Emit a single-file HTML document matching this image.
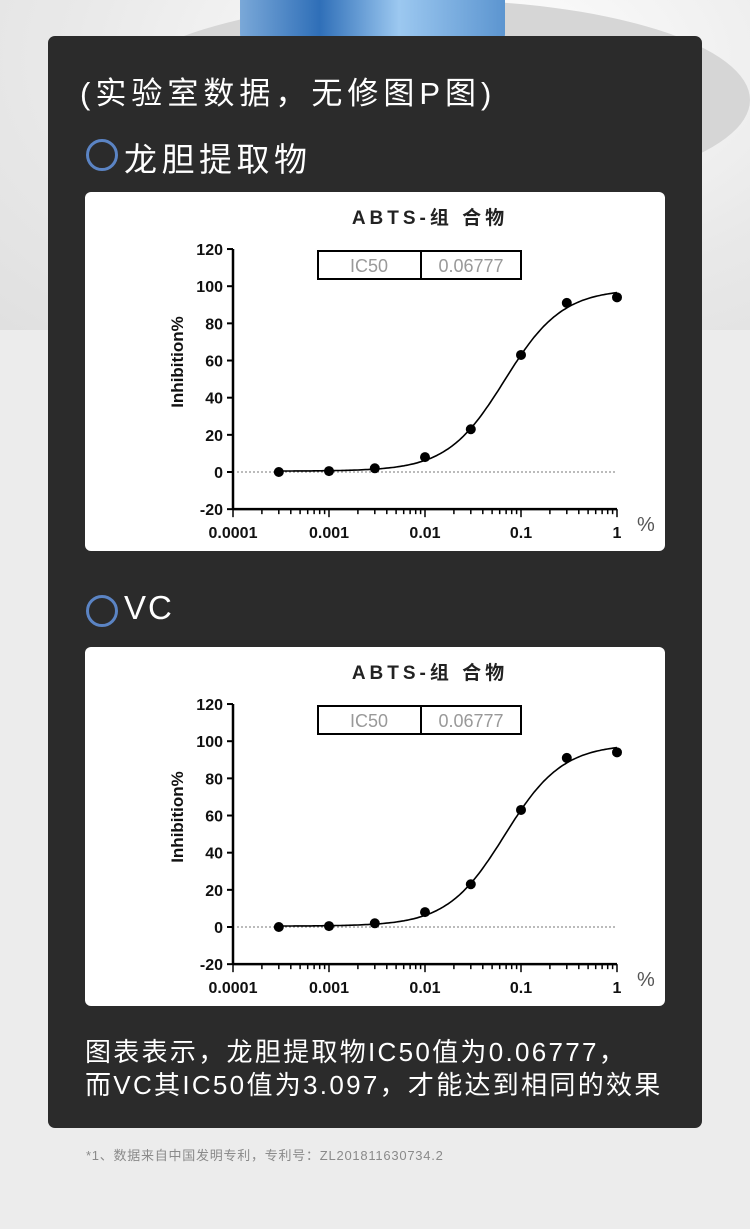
<!DOCTYPE html>
<html><head><meta charset="utf-8">
<style>
html,body{margin:0;padding:0}
body{width:750px;height:1229px;position:relative;overflow:hidden;background:#ececec;font-family:"Liberation Sans","Noto Sans CJK SC",sans-serif}
.top{position:absolute;left:0;top:0;width:750px;height:330px;background:radial-gradient(ellipse at 470px 60px,#ffffff 0,#e9e9e9 60%,#e0e0e0 100%)}
.dish{position:absolute;left:240px;top:-20px;width:265px;height:90px;border-radius:0 0 50% 50%/0 0 40% 40%;background:linear-gradient(90deg,#7aa8d8,#2f6fb8 30%,#9cc8f0 60%,#5c95d0)}
.plate{position:absolute;left:110px;top:0px;width:640px;height:200px;border-radius:50%;background:#d6d6d6}
.card{position:absolute;left:48px;top:36px;width:654px;height:1092px;background:#2b2b2b;border-radius:7px}
.t{position:absolute;color:#fff;white-space:nowrap}
.circ{position:absolute;width:26px;height:26px;border:3px solid #5b84c4;border-radius:50%}
.chart{position:absolute;left:85px;width:580px;height:359px;background:#fff;border-radius:6px}
.foot{position:absolute;left:86px;top:1145px;font-size:13px;color:#8a8a8a;letter-spacing:0.75px}
</style></head><body>
<div class="top"><div class="plate"></div><div class="dish"></div></div>
<div class="card"></div>
<div class="t" style="left:80px;top:68px;font-size:31px;letter-spacing:5px">(实验室数据，无修图P图)</div>
<div class="circ" style="left:86px;top:139px"></div>
<div class="t" style="left:124px;top:133px;font-size:33px;letter-spacing:4.5px">龙胆提取物</div>
<div class="chart" style="top:192px"><svg id="c1" width="580" height="359"></svg></div>
<div class="circ" style="left:86px;top:595px"></div>
<div class="t" style="left:124px;top:589px;font-size:33px;letter-spacing:2px">VC</div>
<div class="chart" style="top:647px"><svg id="c2" width="580" height="359"></svg></div>
<div class="t" style="left:85px;top:1036px;font-size:26px;line-height:33px;letter-spacing:2.3px">图表表示，龙胆提取物IC50值为0.06777，<br>而VC其IC50值为3.097，才能达到相同的效果</div>
<div class="foot">*1、数据来自中国发明专利，专利号：ZL201811630734.2</div>
<script>
function draw(id){
var s=document.getElementById(id),h='';
var X0=148,D=96,Y0=280,K=1.858;
function px(v){return X0+(Math.log10(v)+4)*D}
function py(v){return Y0-v*K}
h+='<text x="345" y="32" font-size="19" font-weight="bold" text-anchor="middle" letter-spacing="4" fill="#222" font-family="Liberation Sans,Noto Sans CJK SC,sans-serif">ABTS-组 合物</text>';
h+='<line x1="'+X0+'" y1="'+py(120)+'" x2="'+X0+'" y2="'+py(-20)+'" stroke="#000" stroke-width="2.5"/>';
h+='<line x1="'+X0+'" y1="'+py(-20)+'" x2="'+px(1)+'" y2="'+py(-20)+'" stroke="#000" stroke-width="2.5"/>';
for(var v=-20;v<=120;v+=20){h+='<line x1="'+(X0-6)+'" y1="'+py(v)+'" x2="'+X0+'" y2="'+py(v)+'" stroke="#000" stroke-width="2"/>';
h+='<text x="'+(X0-10)+'" y="'+(py(v)+6)+'" font-size="16" font-weight="bold" text-anchor="end" fill="#111">'+v+'</text>';}
var labs=['0.0001','0.001','0.01','0.1','1'];
for(var d=0;d<4;d++)for(var m=1;m<10;m++){var x=X0+(d+Math.log10(m))*D;h+='<line x1="'+x+'" y1="'+py(-20)+'" x2="'+x+'" y2="'+(py(-20)+(m==1?8:5))+'" stroke="#000" stroke-width="1.5"/>';}
h+='<line x1="'+px(1)+'" y1="'+py(-20)+'" x2="'+px(1)+'" y2="'+(py(-20)+8)+'" stroke="#000" stroke-width="1.5"/>';
for(var i=0;i<5;i++)h+='<text x="'+(X0+i*D)+'" y="'+(py(-20)+29)+'" font-size="16" font-weight="bold" text-anchor="middle" fill="#111">'+labs[i]+'</text>';
h+='<text x="552" y="339" font-size="20" fill="#555">%</text>';
h+='<text transform="translate(98,170) rotate(-90)" font-size="17" font-weight="bold" text-anchor="middle" fill="#111">Inhibition%</text>';
h+='<line x1="'+(X0+4)+'" y1="'+Y0+'" x2="'+px(1)+'" y2="'+Y0+'" stroke="#777" stroke-width="1" stroke-dasharray="2,2"/>';
h+='<rect x="233" y="59" width="203" height="28" fill="none" stroke="#000" stroke-width="2"/><line x1="336" y1="59" x2="336" y2="87" stroke="#000" stroke-width="2"/>';
h+='<text x="284" y="80" font-size="18" text-anchor="middle" fill="#999">IC50</text><text x="386" y="80" font-size="18" text-anchor="middle" fill="#999">0.06777</text>';
var p='';for(var l=-3.52;l<=0.0001;l+=0.02){var v=Math.pow(10,l);var y=0.5+98/(1+Math.pow(0.06777/v,1.45));p+=(p?'L':'M')+px(v).toFixed(1)+','+py(y).toFixed(1);}
h+='<path d="'+p+'" fill="none" stroke="#000" stroke-width="1.6"/>';
var pts=[[0.0003,0],[0.001,0.5],[0.003,2],[0.01,8],[0.03,23],[0.1,63],[0.3,91],[1,94]];
pts.forEach(function(q){h+='<circle cx="'+px(q[0])+'" cy="'+py(q[1])+'" r="5" fill="#000"/>';});
s.innerHTML=h;}
draw('c1');draw('c2');
</script>
</body></html>
